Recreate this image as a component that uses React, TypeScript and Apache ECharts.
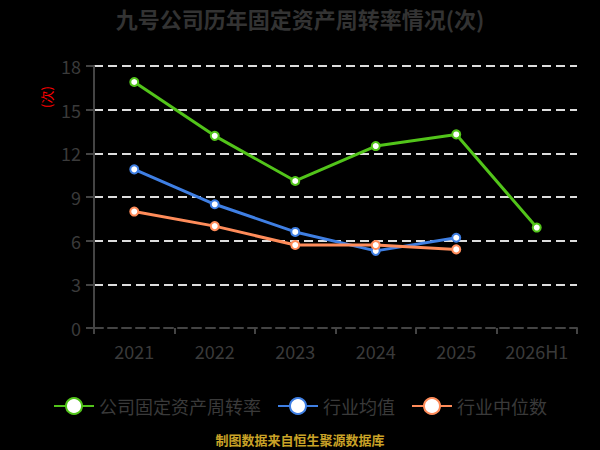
import React, { useEffect, useRef } from "react";
import * as echarts from "echarts";

const categories = ["2021", "2022", "2023", "2024", "2025", "2026H1"];
const companyValues = [16.9, 13.2, 10.1, 12.5, 13.3, 6.9];
const industryAvg = [10.9, 8.5, 6.6, 5.3, 6.2];
const industryMedian = [8.0, 7.0, 5.7, 5.7, 5.4];
const seriesNames = ["公司固定资产周转率", "行业均值", "行业中位数"];
const seriesColors = ["#52c41a", "#3f7fe3", "#ff8c5a"];

const FONT = '"Noto Sans CJK SC", "Noto Sans", sans-serif';

export default function App() {
  const ref = useRef<HTMLDivElement>(null);
  useEffect(() => {
    if (!ref.current) return;
    const chart = echarts.init(ref.current, null, { renderer: "svg" });
    const data = [companyValues, industryAvg, industryMedian];
    chart.setOption({
      animation: false,
      backgroundColor: "#000",
      textStyle: { fontFamily: FONT },
      title: {
        text: "九号公司历年固定资产周转率情况(次)",
        left: "center",
        top: 2,
        textStyle: { fontSize: 22, fontWeight: "bold", color: "#333", fontFamily: FONT },
      },
      legend: {
        bottom: 30,
        left: "center",
        itemWidth: 40,
        itemHeight: 20,
        itemGap: 16,
        textStyle: { fontSize: 18, color: "#3a3a3a", fontFamily: FONT },
        data: seriesNames,
      },
      grid: { left: 94, right: 23, top: 66, bottom: 122, containLabel: false },
      xAxis: {
        type: "category",
        data: categories,
        boundaryGap: true,
        axisLine: { lineStyle: { color: "#444", width: 2, type: [9, 5] } },
        axisTick: { show: true, length: 6, lineStyle: { color: "#444", width: 2 } },
        axisLabel: { fontSize: 18, color: "#3a3a3a", margin: 14, interval: 0, fontFamily: FONT },
      },
      yAxis: {
        type: "value",
        min: 0,
        max: 18,
        interval: 3,
        axisLine: { show: true, lineStyle: { color: "#444", width: 2 } },
        axisTick: { show: true, length: 8, lineStyle: { color: "#444", width: 2 } },
        axisLabel: { fontSize: 18, color: "#3a3a3a", margin: 13, fontFamily: FONT },
        splitLine: { lineStyle: { color: "#ddd", type: [9, 5], width: 2 } },
      },
      graphic: [
        {
          type: "text",
          x: 40,
          y: 108,
          rotation: Math.PI / 2,
          style: { text: "(次)", fill: "#f00", fontSize: 13, fontFamily: FONT },
        },
        {
          type: "text",
          left: "center",
          top: 433,
          style: { text: "制图数据来自恒生聚源数据库", fill: "#c9a227", fontSize: 13, fontWeight: "bold", fontFamily: FONT },
        },
      ],
      series: seriesNames.map((name, i) => ({
        name,
        type: "line",
        data: data[i],
        symbol: "circle",
        symbolSize: 8,
        lineStyle: { width: 3, color: seriesColors[i] },
        itemStyle: { color: "#fff", borderColor: seriesColors[i], borderWidth: 2 },
        emphasis: { disabled: true },
      })),
    });
    return () => chart.dispose();
  }, []);
  return <div ref={ref} style={{ width: 600, height: 450, position: "fixed", left: 0, top: 0 }} />;
}
